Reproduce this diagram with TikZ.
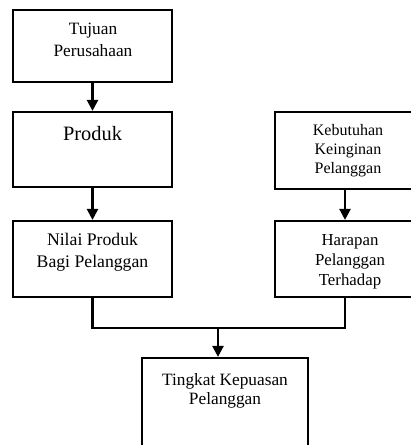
\documentclass[tikz,border=0pt]{standalone}
\usepackage{fontspec}
\setmainfont{Liberation Serif}
\usetikzlibrary{arrows.meta}
\begin{document}
\begin{tikzpicture}[x=1pt,y=-1pt,
  box/.style={draw=black,line width=2.2pt,rectangle,inner sep=0pt},
  txt/.style={anchor=north,align=center,inner sep=0pt},
  arr/.style={line width=2.4pt,-{Triangle[width=11pt,length=11pt]}},
  ln/.style={line width=2.4pt}]
\useasboundingbox (0,0) rectangle (411,445);
\clip (0,0) rectangle (411,445);
\fill[white] (0,0) rectangle (411,445);
% boxes
\node[box,minimum width=159pt,minimum height=72pt] (tujuan) at (92.5,46) {};
\node[box,minimum width=159pt,minimum height=75pt] (produk) at (92.5,149.5) {};
\node[box,minimum width=159pt,minimum height=76pt] (nilai) at (92.5,259) {};
\node[box,minimum width=140pt,minimum height=77pt] (kebutuhan) at (345,150.5) {};
\node[box,minimum width=140pt,minimum height=76pt] (harapan) at (345,259) {};
\node[box,minimum width=166pt,minimum height=110pt] (tingkat) at (225,413) {};
% texts
\node[txt,font=\fontsize{17.3}{22}\selectfont] (t1) at (93,23) {Tujuan\\Perusahaan};
\node[txt,font=\fontsize{20.4}{24}\selectfont] (t2) at (92.5,126) {Produk};
\node[txt,font=\fontsize{16}{19}\selectfont] (t3) at (348,124) {Kebutuhan\\Keinginan\\Pelanggan};
\node[txt,font=\fontsize{17.7}{22}\selectfont] (t4) at (92.5,233) {Nilai Produk\\Bagi Pelanggan};
\node[txt,font=\fontsize{16.8}{20}\selectfont] (t5) at (350,234) {Harapan\\Pelanggan\\Terhadap};
\node[txt,font=\fontsize{17.3}{19}\selectfont] (t6) at (225,373) {Tingkat Kepuasan\\Pelanggan};
% connectors
\draw[arr] (tujuan.south) -- (produk.north);
\draw[arr] (produk.south) -- (nilai.north);
\draw[arr] (kebutuhan.south) -- (harapan.north);
\coordinate (j) at (218,328);
\draw[ln,line join=miter] (nilai.south) |- (j) -| (harapan.south);
\draw[arr] (j) -- (j |- tingkat.north);
\end{tikzpicture}
\end{document}
